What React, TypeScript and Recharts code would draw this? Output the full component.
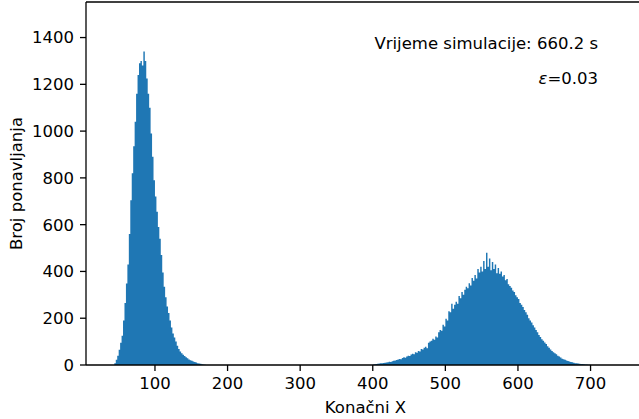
import React from "react";
import { ComposedChart, Area, XAxis, YAxis, ReferenceLine } from "recharts";

// Histogram bins: left edges start at *_START, width BIN_WIDTH
const BIN_WIDTH = 2;
const LEFT_START = 44;
const leftCounts = [
  8, 22, 40, 65, 95, 125, 190, 265, 348, 430, 560, 704, 820, 935, 1040, 1160,
  1240, 1290, 1300, 1280, 1340, 1300, 1225, 1160, 1100, 990, 890, 790, 720, 655,
  590, 540, 470, 395, 335, 290, 250, 222, 190, 160, 135, 118, 100, 82, 68, 58,
  50, 44, 38, 33, 29, 24, 20, 18, 15, 13, 11, 8, 6, 5, 3, 2, 1,
];
const RIGHT_START = 400;
const rightCounts = [
  2, 3, 4, 5, 6, 8, 7, 9, 10, 11, 12, 14, 13, 16, 18, 19, 21, 24, 26, 25, 30, 33,
  31, 36, 40, 38, 45, 48, 46, 55, 52, 60, 58, 68, 66, 74, 78, 72, 95, 100, 104,
  112, 108, 122, 118, 140, 150, 146, 172, 165, 198, 190, 230, 225, 262, 240, 258,
  270, 262, 295, 285, 312, 300, 322, 335, 328, 350, 340, 372, 360, 385, 370, 410,
  395, 420, 400, 445, 410, 480, 420, 455, 405, 440, 410, 430, 392, 415, 390, 400,
  378, 385, 362, 368, 345, 338, 330, 319, 312, 298, 290, 282, 265, 258, 248, 235,
  226, 215, 200, 190, 182, 170, 160, 150, 140, 128, 120, 110, 104, 96, 90, 80, 74,
  66, 60, 54, 50, 46, 40, 36, 32, 27, 25, 22, 19, 17, 15, 13, 12, 10, 8, 7, 6, 5,
  4, 4, 3, 2, 2, 1, 1,
];
const xTicks = [100, 200, 300, 400, 500, 600, 700];
const yTicks = [0, 200, 400, 600, 800, 1000, 1200, 1400];
const X_DOMAIN: [number, number] = [5, 775];
const Y_DOMAIN: [number, number] = [0, 1552];
const xLabel = "Konačni X";
const yLabel = "Broj ponavljanja";
const note1 = "Vrijeme simulacije: 660.2 s";
const note2Sym = "ε";
const note2Rest = "=0.03";

function buildData() {
  const out: { x: number; count: number }[] = [];
  leftCounts.forEach((c, i) => out.push({ x: LEFT_START + i * BIN_WIDTH, count: c }));
  out.push({ x: LEFT_START + leftCounts.length * BIN_WIDTH, count: 0 });
  rightCounts.forEach((c, i) => out.push({ x: RIGHT_START + i * BIN_WIDTH, count: c }));
  out.push({ x: RIGHT_START + rightCounts.length * BIN_WIDTH, count: 0 });
  return out;
}
const data = buildData();

const FONT = "DejaVu Sans";
const FS = 16.5;

export default function App() {
  return (
    <div
      style={{
        position: "fixed",
        left: 0,
        top: 0,
        width: 639,
        height: 419,
        overflow: "hidden",
        background: "#fff",
        fontFamily: FONT,
      }}
    >
      <ComposedChart
        width={700}
        height={419}
        data={data}
        margin={{ top: 2, right: 55, bottom: 0, left: 0 }}
      >
        <XAxis
          dataKey="x"
          type="number"
          domain={X_DOMAIN}
          allowDataOverflow
          ticks={xTicks}
          height={54}
          tickSize={6}
          tickMargin={6}
          stroke="#000"
          axisLine={{ stroke: "#000", strokeWidth: 1.3 }}
          tickLine={{ stroke: "#000", strokeWidth: 1.3 }}
          tick={{ fill: "#000", fontSize: FS, fontFamily: FONT }}
          label={{
            value: xLabel,
            position: "insideBottom",
            offset: 6,
            fill: "#000",
            fontSize: FS,
            fontFamily: FONT,
          }}
        />
        <YAxis
          type="number"
          domain={Y_DOMAIN}
          allowDataOverflow
          ticks={yTicks}
          width={86}
          tickSize={6}
          tickMargin={6}
          stroke="#000"
          axisLine={{ stroke: "#000", strokeWidth: 1.3 }}
          tickLine={{ stroke: "#000", strokeWidth: 1.3 }}
          tick={{ fill: "#000", fontSize: FS, fontFamily: FONT }}
          label={{
            value: yLabel,
            angle: -90,
            position: "insideLeft",
            offset: 16,
            fill: "#000",
            fontSize: FS,
            fontFamily: FONT,
            style: { textAnchor: "middle" },
          }}
        />
        <ReferenceLine y={Y_DOMAIN[1]} stroke="#000" strokeWidth={1.3} ifOverflow="visible" />
        <Area
          type="stepAfter"
          dataKey="count"
          fill="#1f77b4"
          fillOpacity={1}
          stroke="none"
          isAnimationActive={false}
          dot={false}
          activeDot={false}
        />
      </ComposedChart>
      <svg
        width={639}
        height={419}
        style={{ position: "absolute", left: 0, top: 0, pointerEvents: "none" }}
      >
        <text x={598} y={48.5} textAnchor="end" fontFamily={FONT} fontSize={FS} fill="#000">
          {note1}
        </text>
        <text x={598} y={83.5} textAnchor="end" fontFamily={FONT} fontSize={FS} fill="#000">
          <tspan fontStyle="italic">{note2Sym}</tspan>
          {note2Rest}
        </text>
      </svg>
    </div>
  );
}
